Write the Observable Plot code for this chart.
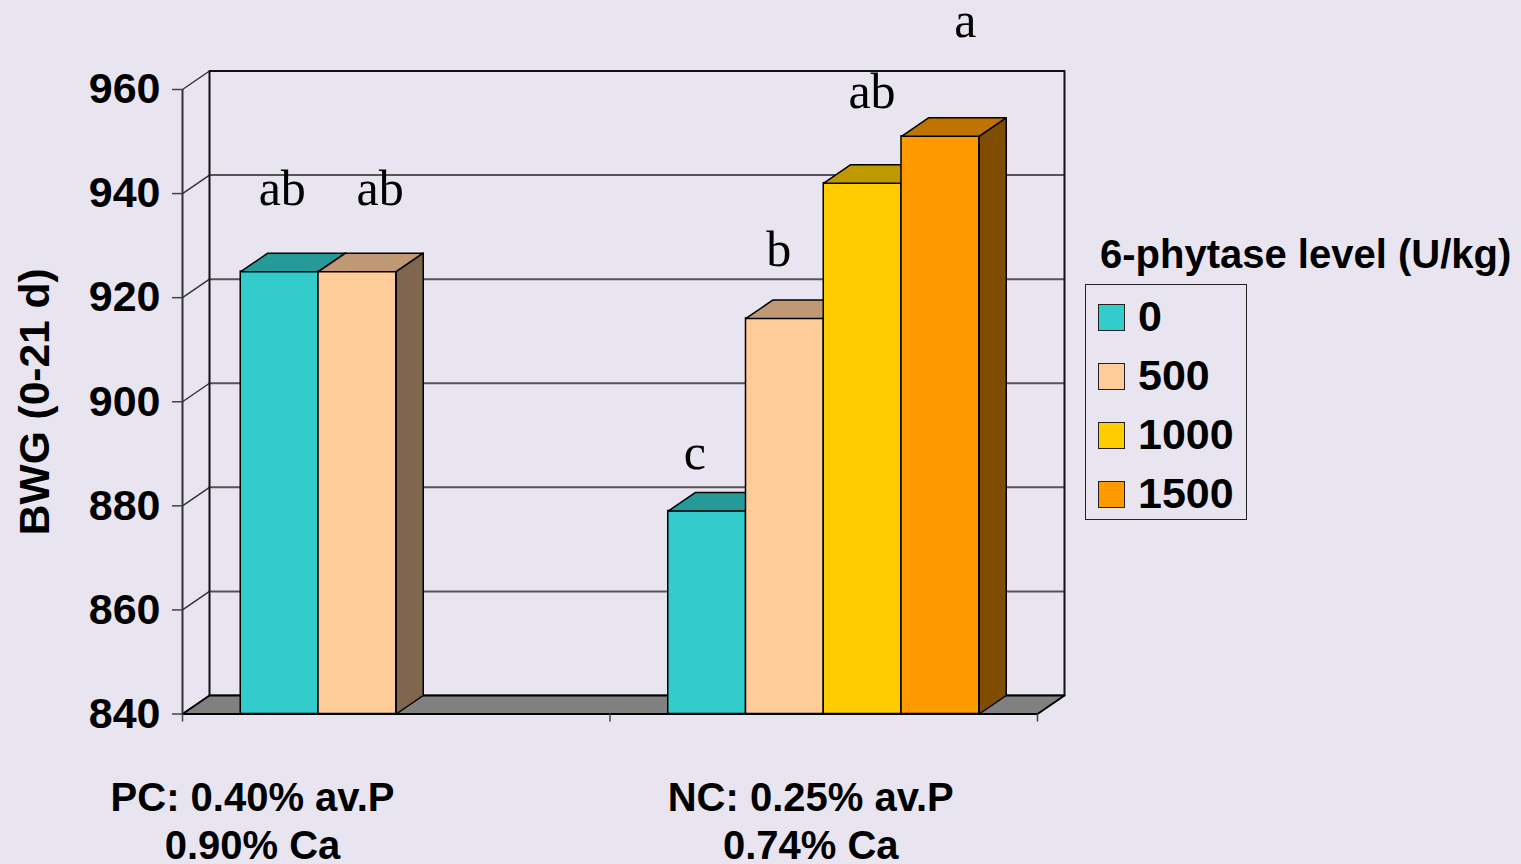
<!DOCTYPE html>
<html>
<head>
<meta charset="utf-8">
<script src="https://cdn.jsdelivr.net/npm/d3@7"></script>
<script src="https://cdn.jsdelivr.net/npm/@observablehq/plot@0.6"></script>
<style>
html, body { margin: 0; padding: 0; background: #E8E4F0; overflow: hidden; }
#wrap { position: relative; width: 1521px; height: 864px; }
#wrap svg { position: absolute; left: 0; top: 0; }
.lg { position: absolute; font-family: "Liberation Sans", Arial, sans-serif; font-weight: bold; color: #000; white-space: nowrap; }
.lg-title { font-size: 40px; line-height: 40px; }
.lg-box { border: 1.5px solid #222; box-sizing: border-box; }
.lg-sw { border: 1.5px solid #222; box-sizing: border-box; width: 27px; height: 27px; }
.lg-txt { font-size: 43px; line-height: 43px; }
</style>
</head>
<body>
<div id="wrap"></div>
<script>
// ---- data ----
const categories = ["PC: 0.40% av.P\n0.90% Ca", "NC: 0.25% av.P\n0.74% Ca"];
const levels = ["0", "500", "1000", "1500"];
const pcBWG = [925, 925, null, null];
const ncBWG = [879, 916, 942, 951];
const pcLetters = ["ab", "ab", null, null];
const ncLetters = ["c", "b", "ab", "a"];
const yTicks = [840, 860, 880, 900, 920, 940, 960];
const legendTitle = "6-phytase level (U/kg)";
const yLabel = "BWG (0-21 d)";

// ---- styles ----
const frontColors = ["#33CCCC", "#FFCC99", "#FFCC00", "#FF9900"];
const topColors = ["#269999", "#BF9973", "#BF9900", "#BF7300"];
const sideColors = ["#1A6666", "#80664D", "#806600", "#804D00"];
const letterNudge = [[[2.6, -67], [22.8, -67]], [[-12.4, -41.7], [-6, -52.3], [9.4, -75.3], [25, -99]]];
const catNudge = [-143.75, -13];

// ---- layout ----
const W = 1521, H = 864, mL = 182, mR = 484, mT = 89, mB = 150.5;
const yMin = 840, yMax = 960;
const pxX = 2 / (W - mL - mR), pxY = (yMax - yMin) / (H - mT - mB);
const DX = 27 * pxX, DY = 18.5 * pxY;     // 3-D depth expressed in data units
const cluster = 0.7275, bw = cluster / 4;

const series = [pcBWG, ncBWG];
const lettersBy = [pcLetters, ncLetters];
const rows = [];
categories.forEach((c, g) => levels.forEach((lv, i) => {
  const v = series[g][i];
  if (v == null) return;
  const x1 = g + 0.5 - cluster / 2 + i * bw;
  rows.push({g, i, level: lv, value: v, x1, x2: x1 + bw, xm: x1 + bw / 2, letter: lettersBy[g][i], id: g + "-" + i});
}));

const topPoly = r => [
  {id: r.id, x: r.x1, y: r.value}, {id: r.id, x: r.x2, y: r.value},
  {id: r.id, x: r.x2 + DX, y: r.value + DY}, {id: r.id, x: r.x1 + DX, y: r.value + DY},
  {id: r.id, x: r.x1, y: r.value}
];
const sidePoly = r => [
  {id: r.id, x: r.x2, y: yMin}, {id: r.id, x: r.x2, y: r.value},
  {id: r.id, x: r.x2 + DX, y: r.value + DY}, {id: r.id, x: r.x2 + DX, y: yMin + DY},
  {id: r.id, x: r.x2, y: yMin}
];

const floor = [
  {x: 0, y: yMin}, {x: 2, y: yMin}, {x: 2 + DX, y: yMin + DY}, {x: DX, y: yMin + DY}, {x: 0, y: yMin}
];
const wall = [
  {x: DX, y: yMin + DY}, {x: DX, y: yMax + DY}, {x: 2 + DX, y: yMax + DY}, {x: 2 + DX, y: yMin + DY}
];

const FONT = "Liberation Sans, Arial, sans-serif";
const marks = [
  Plot.ruleY(yTicks, {y: d => d + DY, x1: DX, x2: 2 + DX, stroke: "#555", strokeWidth: 2}),
  Plot.link(yTicks, {x1: 0, y1: d => d, x2: DX, y2: d => d + DY, stroke: "#333", strokeWidth: 1.5}),
  Plot.line(wall, {x: "x", y: "y", stroke: "#111", strokeWidth: 2}),
  Plot.line(floor, {x: "x", y: "y", fill: "#808080", stroke: "#000", strokeWidth: 2}),
  Plot.ruleX([0], {y1: yMin, y2: yMax, stroke: "#333", strokeWidth: 2}),
  Plot.axisY(yTicks, {tickSize: 10, tickPadding: 12, fontSize: 43, fontWeight: "bold", fontFamily: FONT, color: "#000", stroke: "#444", strokeWidth: 1.5, label: null}),
  Plot.axisX([0, 1, 2], {tickSize: 8, tickFormat: () => "", stroke: "#444", strokeWidth: 1.5, label: null})
];

levels.forEach((lv, i) => {
  const R = rows.filter(r => r.i === i);
  if (!R.length) return;
  marks.push(
    Plot.rect(R, {x1: "x1", x2: "x2", y1: yMin, y2: "value", fill: frontColors[i], stroke: "#000", strokeWidth: 1.5}),
    Plot.line(R.flatMap(topPoly), {x: "x", y: "y", z: "id", fill: topColors[i], stroke: "#000", strokeWidth: 1.5}),
    Plot.line(R.flatMap(sidePoly), {x: "x", y: "y", z: "id", fill: sideColors[i], stroke: "#000", strokeWidth: 1.5})
  );
});

rows.forEach(r => {
  const [ndx, ndy] = letterNudge[r.g][r.i];
  marks.push(Plot.text([r], {
    x: "xm", y: "value", text: "letter", lineAnchor: "bottom", textAnchor: "middle",
    dx: ndx, dy: ndy, fontSize: 50, fontFamily: "Liberation Serif, Times New Roman, serif", fill: "#000"
  }));
});

categories.forEach((c, g) => {
  marks.push(Plot.text([c], {
    x: g + 0.5, y: yMin, text: d => d, lineAnchor: "top", lineHeight: 1.2,
    dx: catNudge[g], dy: 63, fontSize: 40, fontWeight: "bold", fontFamily: FONT, fill: "#000"
  }));
});

marks.push(Plot.text([yLabel], {
  frameAnchor: "left", text: d => d, rotate: -90, dx: -147, textAnchor: "middle",
  fontSize: 42.5, fontWeight: "bold", fontFamily: FONT, fill: "#000"
}));

const chart = Plot.plot({
  width: W, height: H,
  marginLeft: mL, marginRight: mR, marginTop: mT, marginBottom: mB,
  x: {type: "linear", domain: [0, 2]},
  y: {domain: [yMin, yMax]},
  style: {background: "transparent", fontFamily: FONT, overflow: "visible"},
  marks
});

const wrap = document.getElementById("wrap");
wrap.appendChild(chart);

// ---- legend ----
function el(cls, css, text) {
  const d = document.createElement("div");
  d.className = "lg " + cls;
  Object.assign(d.style, css);
  if (text != null) d.textContent = text;
  wrap.appendChild(d);
  return d;
}
el("lg-title", {left: "1100px", top: "234px"}, legendTitle);
el("lg-box", {left: "1085px", top: "284px", width: "162px", height: "236px"});
levels.forEach((lv, i) => {
  el("lg-sw", {left: "1098px", top: (304 + i * 59) + "px", background: frontColors[i]});
  el("lg-txt", {left: "1138px", top: (295 + i * 59) + "px"}, lv);
});
</script>
</body>
</html>
